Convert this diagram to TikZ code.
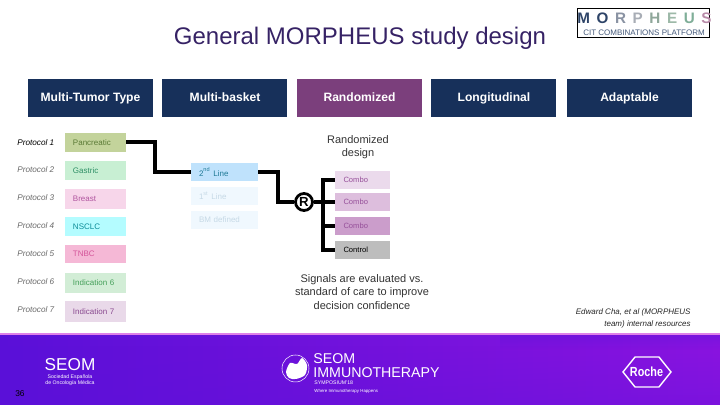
\documentclass[tikz,border=0pt]{standalone}
\usepackage{fontspec}
\setmainfont{Liberation Sans}
\usetikzlibrary{shapes.geometric,fadings}
\definecolor{navyhead}{HTML}{17305A}
\definecolor{plumhead}{HTML}{7B3F7C}
\definecolor{pancfill}{HTML}{C3D39B}\definecolor{panctext}{HTML}{5A7A35}
\definecolor{gastfill}{HTML}{C8EFD3}\definecolor{gasttext}{HTML}{2E8F66}
\definecolor{brstfill}{HTML}{F7D6EA}\definecolor{brsttext}{HTML}{B0559F}
\definecolor{nscfill}{HTML}{B4FCFF}\definecolor{nsctext}{HTML}{0B8C98}
\definecolor{tnbfill}{HTML}{F5B8D6}\definecolor{tnbtext}{HTML}{D4559A}
\definecolor{ind6fill}{HTML}{D2EDD6}\definecolor{ind6text}{HTML}{45A05A}
\definecolor{ind7fill}{HTML}{E9D9E9}\definecolor{ind7text}{HTML}{8A4A90}
\definecolor{line2fill}{HTML}{BFE2FC}\definecolor{line2text}{HTML}{1F7A96}
\definecolor{linepale}{HTML}{F0F8FE}\definecolor{linepaletext}{HTML}{C6D9E6}
\definecolor{combo1}{HTML}{EBDAEC}\definecolor{combo2}{HTML}{DDBEDD}
\definecolor{combo3}{HTML}{CB9DCB}\definecolor{combotext}{HTML}{96509A}
\definecolor{ctrlfill}{HTML}{BDBDBD}
\definecolor{grayprot}{HTML}{6A6A6A}
\definecolor{footblue}{HTML}{5A10D8}\definecolor{footmag}{HTML}{B010E4}\definecolor{footviol}{HTML}{8A14E0}
\definecolor{footedge}{HTML}{E080E8}
\newcommand{\morphl}[2]{\textcolor[HTML]{#1}{#2}\hspace{3.3pt}}
\tikzset{
headbox/.style={fill=#1,text=white,minimum width=62.5pt,minimum height=19pt,inner sep=0pt,text height=4.4pt,text depth=1.2pt,font=\fontsize{6.05}{8}\selectfont\bfseries},
tumorbox/.style={minimum height=#1,text width=22.5pt,inner xsep=4pt,inner ysep=0pt,align=left,font=\fontsize{4}{5}\selectfont},
basketbox/.style={minimum height=9pt,text width=25.5pt,inner xsep=4pt,inner ysep=0pt,align=left,font=\fontsize{4}{5}\selectfont},
armbox/.style={minimum height=9pt,text width=19pt,inner xsep=4.25pt,inner ysep=0pt,align=left,font=\fontsize{3.8}{5}\selectfont},
protlabel/.style={inner sep=0pt,anchor=west,text=grayprot,font=\fontsize{4.1}{5}\selectfont\itshape},
bodytext/.style={align=center,inner sep=0pt,font=\fontsize{5.5}{6.6}\selectfont,text=black!80},
linkline/.style={line width=2pt,draw=black},
footertext/.style={text=white,inner sep=0pt}
}
\begin{document}
\begin{tikzpicture}[x=0.5pt,y=-0.5pt]
\useasboundingbox (0,0) rectangle (720,405);
% footer band
\shade[left color=footblue,middle color=footmag,right color=footviol] (0,334) rectangle (720,405);
\fill[footblue,path fading=north,opacity=0.3] (0,345) rectangle (720,405);
\fill[footblue,path fading=south,opacity=0.35] (500,335) rectangle (720,350);
\fill[footedge] (0,333.5) rectangle (720,335);
% title and logo
\node (title) at (360,38) [inner sep=0pt,text=navyhead!70!violet,font=\fontsize{12}{14}\selectfont] {General MORPHEUS study design};
\node (logobox) at (644,23.5) [draw=black,line width=0.5pt,fill=white,minimum width=66pt,minimum height=14.5pt,inner sep=0pt] {};
\node (logotop) at (644.5,18.5) [inner sep=0pt,font=\fontsize{7.6}{8}\selectfont\bfseries] {\morphl{2E4468}{M}\morphl{2E4468}{O}\morphl{8A93A3}{R}\morphl{A8ADB5}{P}\morphl{8FA79A}{H}\morphl{9DB9A8}{E}\morphl{7FAE98}{U}\textcolor[HTML]{B88AA8}{S}};
\node (logosub) at (644,33) [inner sep=0pt,text=navyhead!80,font=\fontsize{4}{5}\selectfont] {CIT COMBINATIONS PLATFORM};
% column heads
\foreach \n/\x/\c/\t in {htumor/90.5/navyhead/Multi-Tumor Type,hbasket/225/navyhead/Multi-basket,hrand/359.5/plumhead/Randomized,hlong/494/navyhead/Longitudinal,hadapt/629.5/navyhead/Adaptable}
  \node[headbox=\c] (\n) at (\x,98) {\t};
% protocols
\node[protlabel,text=black] (prot1) at (17,142.5) {Protocol 1};
\foreach \k/\y in {2/169.5,3/197.5,4/225.5,5/253.5,6/281.5,7/309.5}
  \node[protlabel] (prot\k) at (17,\y) {Protocol \k};
\foreach \n/\y/\h/\f/\c/\t in {panc/142.5/9.5pt/pancfill/panctext/Pancreatic,gast/170.5/9.5pt/gastfill/gasttext/Gastric,brst/199/10pt/brstfill/brsttext/Breast,nsclc/226.5/9.5pt/nscfill/nsctext/NSCLC,tnbc/254/9pt/tnbfill/tnbtext/TNBC,ind6/283/10pt/ind6fill/ind6text/Indication 6,ind7/311.5/10.5pt/ind7fill/ind7text/Indication 7}
  \node[tumorbox=\h,fill=\f,text=\c] (\n) at (95.5,\y) {\t};
% baskets
\node[basketbox,fill=line2fill,text=line2text] (line2) at (224.5,172) {2\textsuperscript{nd} Line};
\node[basketbox,fill=linepale,text=linepaletext] (line1) at (224.5,196) {1\textsuperscript{st} Line};
\node[basketbox,fill=linepale,text=linepaletext] (linebm) at (224.5,220) {BM defined};
% arms
\foreach \n/\y/\f/\c/\t in {arm1/180/combo1/combotext/Combo,arm2/202/combo2/combotext/Combo,arm3/226/combo3/combotext/Combo,arm4/250/ctrlfill/black/Control}
  \node[armbox,fill=\f,text=\c] (\n) at (362.5,\y) {\t};
\node[circle,draw=black,line width=1.4pt,fill=white,minimum size=8.5pt,inner sep=0pt,font=\fontsize{6.6}{8}\selectfont\bfseries] (rnode) at (304,202) {R};
% connectors
\draw[linkline] (panc.east) -- ++(29,0) |- (line2.west);
\draw[linkline] (line2.east) -- ++(20,0) |- (rnode.west);
\draw[linkline] (arm1.west) -- ++(-12,0) |- (arm4.west);
\draw[linkline] (rnode.east) -- (arm2.west);
\draw[linkline] (arm3.west) -- ++(-12,0);
% texts
\node[bodytext] (randdesign) at (358,147) {Randomized\\design};
\node[bodytext] (signals) at (362,292) {Signals are evaluated vs.\\standard of care to improve\\decision confidence};
\node[align=right,anchor=east,inner sep=0pt,text=black!85,font=\fontsize{4}{5.6}\selectfont\itshape] (cite) at (691,318.5) {Edward Cha, et al (MORPHEUS\\team) internal resources};
% footer logos
\node[footertext,font=\fontsize{8.6}{10}\selectfont] (seom) at (70,365) {SEOM};
\node[footertext,align=center,font=\fontsize{2.6}{3.2}\selectfont] (seomsub) at (70,380.5) {Sociedad Española\\[-0.2pt]de Oncología Médica};
\node[footertext,text=black,font=\fontsize{4.2}{5}\selectfont] (pageno) at (20,394) {36};
\node[circle,draw=white,line width=0.25pt,minimum size=13.5pt,inner sep=0pt] (blobring) at (295.5,368.5) {};
\fill[white] plot[smooth cycle] coordinates {(286,372) (290,363) (297,364) (302,358) (307,365) (305,375) (296,379) (289,378)};
\node[footertext,anchor=west,align=left,font=\fontsize{7.1}{7}\selectfont] (immuno) at (313,366) {SEOM\\IMMUNOTHERAPY};
\node[footertext,anchor=west,font=\fontsize{2.6}{3}\selectfont] (sympo) at (314,382.5) {SYMPOSIUM'18};
\node[footertext,anchor=west,font=\fontsize{2.2}{3}\selectfont] (happens) at (314,391) {Where Immunotherapy Happens};
\node[regular polygon,regular polygon sides=6,draw=white,line width=0.7pt,minimum width=24pt,inner sep=0pt,yscale=0.72] (rochehex) at (647,372) {};
\node[footertext,xscale=0.82,font=\fontsize{6.6}{8}\selectfont\bfseries] (roche) at (646.5,372) {Roche};
\end{tikzpicture}
\end{document}
